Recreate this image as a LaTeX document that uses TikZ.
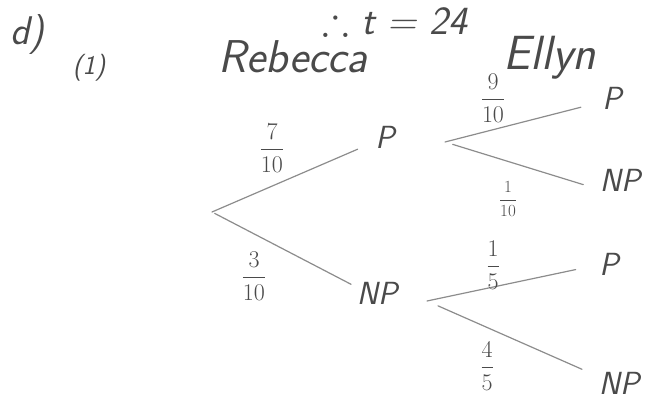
\RequirePackage{fix-cm}
\documentclass[tikz,border=0pt]{standalone}
\usepackage{amsmath,amssymb}
\usepackage{tikz}
\usetikzlibrary{positioning,calc}
\definecolor{pencil}{HTML}{4A4A4A}
\definecolor{pencilline}{HTML}{8C8C8C}
\newcommand{\hand}[1]{\fontsize{#1}{#1}\selectfont\sffamily\slshape}
\tikzset{
  outcome/.style={font=\hand{32}, text=pencil, inner sep=2pt},
  person/.style={font=\hand{46}, text=pencil, inner sep=0pt},
  qnum/.style={font=\hand{40}, text=pencil, inner sep=0pt},
  prob/.style={font=\fontsize{24}{28}\selectfont, text=pencil, inner sep=0pt},
  smallprob/.style={prob, font=\fontsize{17}{20}\selectfont},
  branch/.style={line width=1.2pt, color=pencilline, line cap=round},
}
\begin{document}
\begin{tikzpicture}[x=1pt,y=1pt]
  \useasboundingbox (0,0) rectangle (652,401);
  % heading
  \node[qnum] (part) at (27,366) {d)};
  \node[qnum, font=\hand{27}] (item) at (89,333) {(1)};
  \node[qnum, font=\hand{40}, anchor=base] (answer) at (395,366) {$\therefore$\ t = 24};
  \node[person] (rebecca) at (293,344) {Rebecca};
  \node[person, font=\hand{48}] (ellyn) at (550,343) {Ellyn};
  % first draw (Rebecca)
  \coordinate (root) at (212,189);
  \node[outcome] (rp) at (385,264) {P};
  \node[outcome] (rnp) at (377,108) {NP};
  % second draw (Ellyn)
  \coordinate (jp) at (445,259);
  \coordinate (jnp) at (427,100);
  \node[outcome] (ep1) at (612,303) {P};
  \node[outcome] (enp1) at (620,221) {NP};
  \node[outcome] (ep2) at (609,137) {P};
  \node[outcome] (enp2) at (619,18) {NP};
  % branches
  \draw[branch, shorten >=17pt] (root) -- (rp.205);
  \draw[branch, shorten <=3pt, shorten >=4pt] (root) -- (rnp.163);
  \draw[branch, shorten >=20pt] (jp) -- (ep1.200);
  \draw[branch, shorten <=8pt, shorten >=15pt] (jp) -- (enp1.202);
  \draw[branch, shorten >=22pt] (jnp) -- (ep2.185);
  \draw[branch, shorten <=12pt, shorten >=16pt] (jnp) -- (enp2.162);
  % probabilities
  \node[prob] (q1) at (272,253) {$\dfrac{7}{10}$};
  \node[prob] (q2) at (254,125) {$\dfrac{3}{10}$};
  \node[prob] (q3) at (493,303) {$\dfrac{9}{10}$};
  \node[smallprob] (q4) at (508,202) {$\dfrac{1}{10}$};
  \node[prob] (q5) at (493,136) {$\dfrac{1}{5}$};
  \node[prob] (q6) at (487,35) {$\dfrac{4}{5}$};
\end{tikzpicture}
\end{document}
